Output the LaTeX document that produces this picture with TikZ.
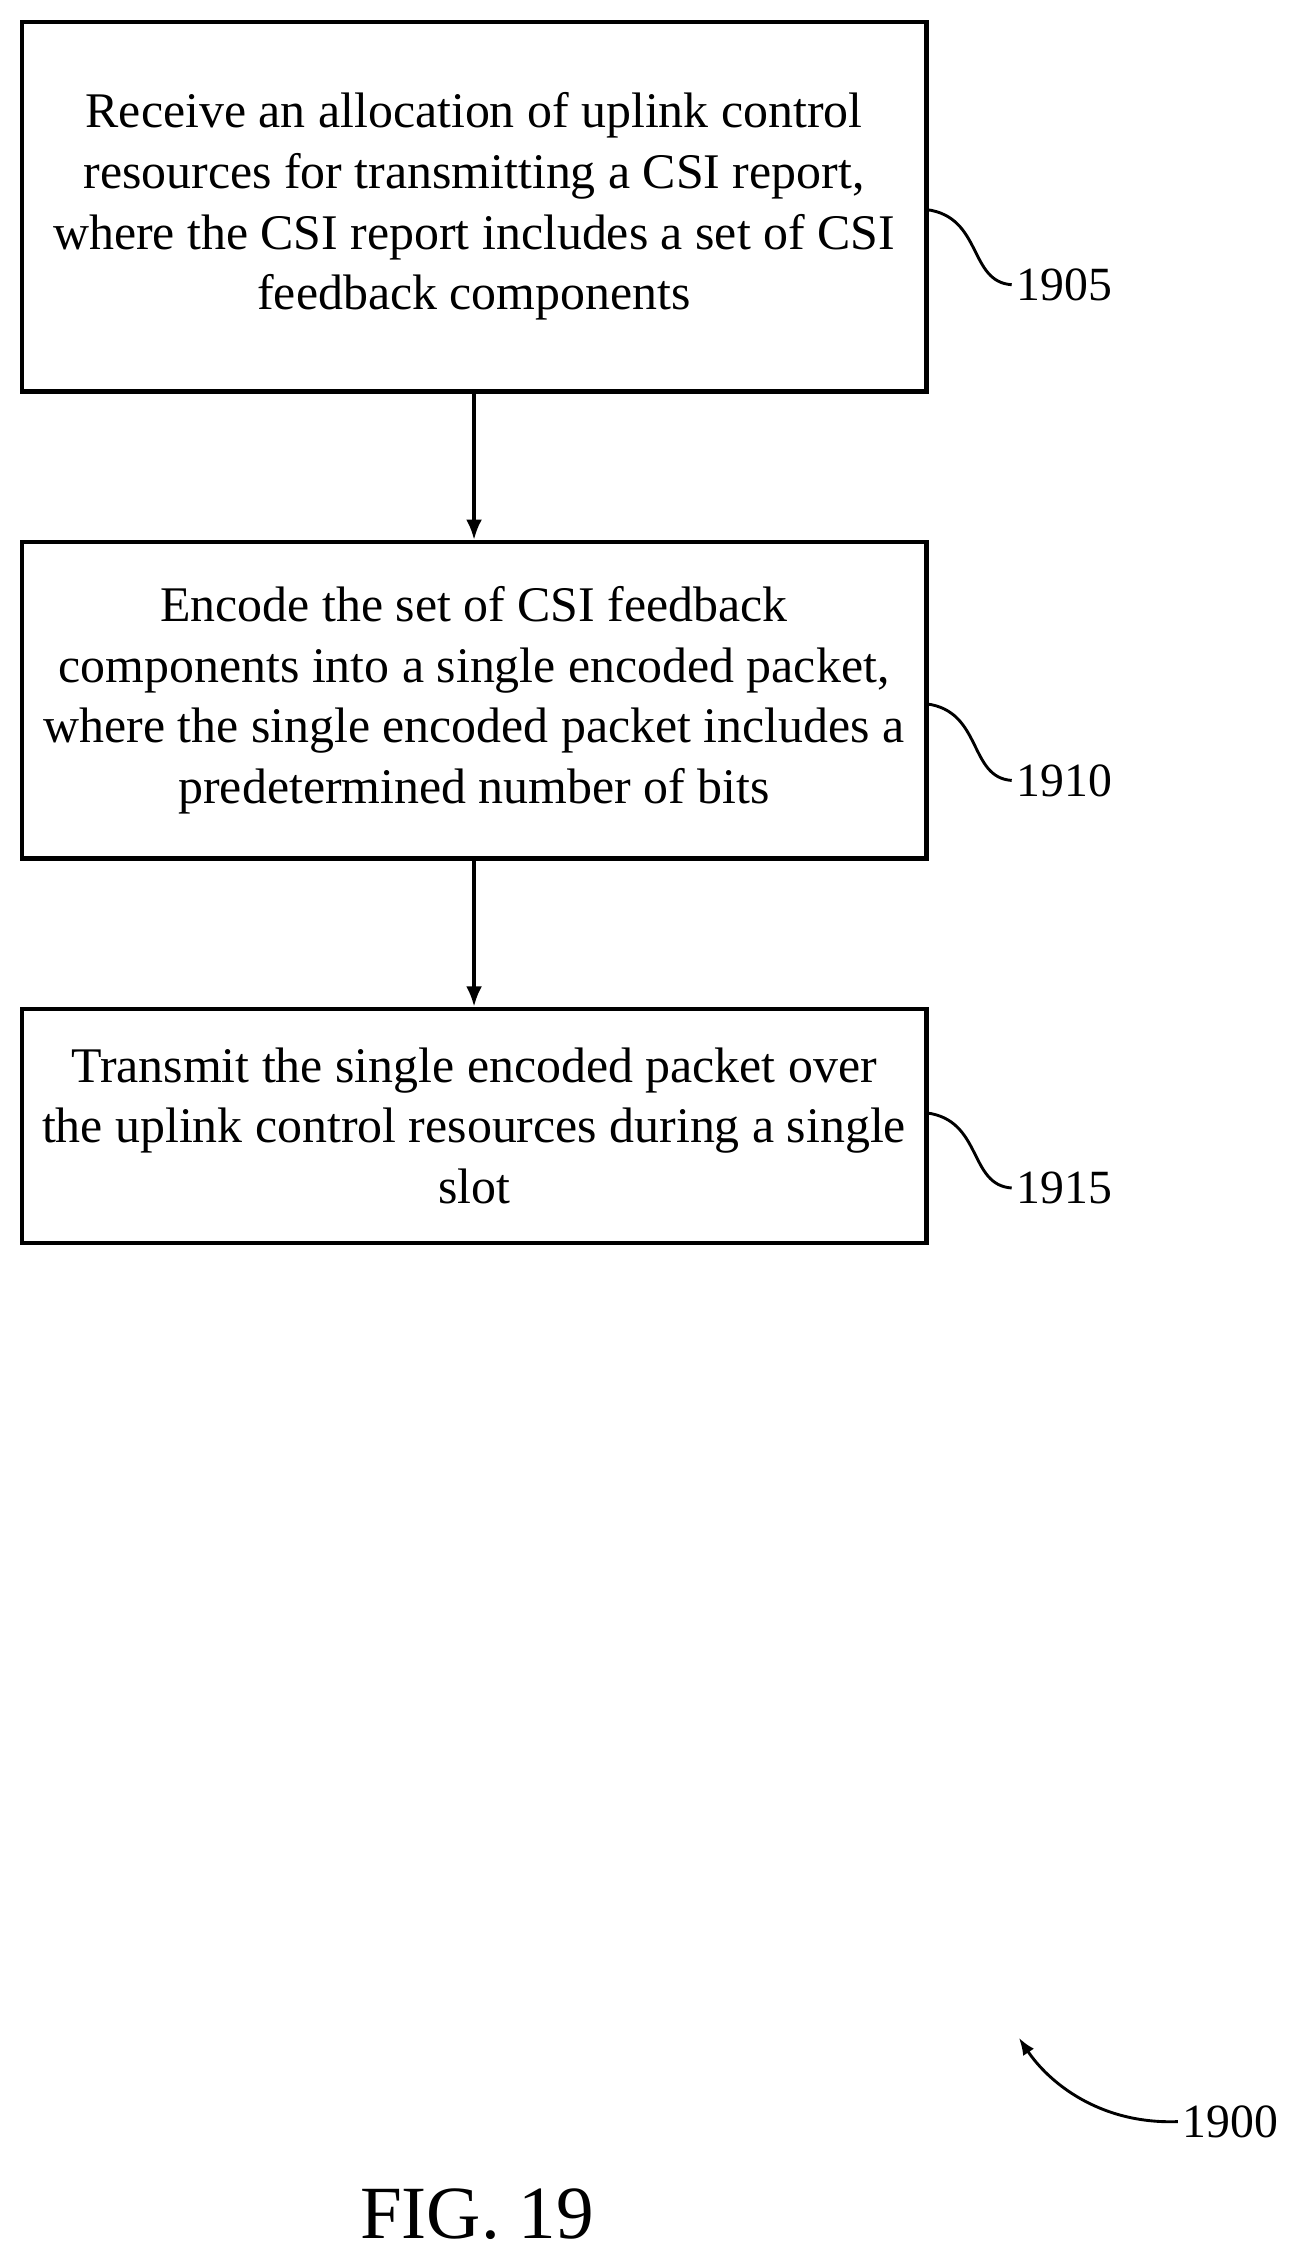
\documentclass[tikz,border=0pt]{standalone}
\usepackage{fontspec}
\setmainfont{Liberation Serif}
\usetikzlibrary{arrows.meta}
\begin{document}
\begin{tikzpicture}[x=1pt,y=-1pt,
  box/.style={draw,line width=3pt,minimum width=626pt,align=center,inner sep=0pt,font=\fontsize{34.5}{42}\selectfont},
  lbl/.style={font=\fontsize{33}{36}\selectfont,anchor=west},
  arr/.style={-{Latex[length=14pt,width=11pt]},line width=2.2pt}]
\useasboundingbox (0,0) rectangle (910,1561);
\node[box,minimum height=256pt] (b1) at (328,143) {Receive an allocation of uplink control\\resources for transmitting a CSI report,\\where the CSI report includes a set of CSI\\feedback components};
\node[box,minimum height=219pt] (b2) at (328,484.5) {Encode the set of CSI feedback\\components into a single encoded packet,\\where the single encoded packet includes a\\predetermined number of bits};
\node[box,minimum height=162pt] (b3) at (328,779) {Transmit the single encoded packet over\\the uplink control resources during a single\\slot};
\draw[arr] (b1) -- (b2);
\draw[arr] (b2) -- (b3);
\node[lbl] (l1) at (700,197) {1905};
\node[lbl] (l2) at (700,540) {1910};
\node[lbl] (l3) at (700,822) {1915};
\draw[line width=2pt] (l1.west) .. controls (670,195) and (680,150) .. (641,145);
\draw[line width=2pt] (l2.west) .. controls (670,538) and (680,492) .. (641,487);
\draw[line width=2pt] (l3.west) .. controls (670,820) and (680,775) .. (641,770);
\node[lbl] (l4) at (815,1468) {1900};
\coordinate (c4) at (705,1410);
\draw[-{Latex[length=12pt,width=9pt]},line width=2pt] (l4.west) .. controls (760,1470) and (725,1440) .. (c4);
\node[font=\fontsize{52}{56}\selectfont] (fig) at (330,1532) {FIG. 19};
\end{tikzpicture}
\end{document}
